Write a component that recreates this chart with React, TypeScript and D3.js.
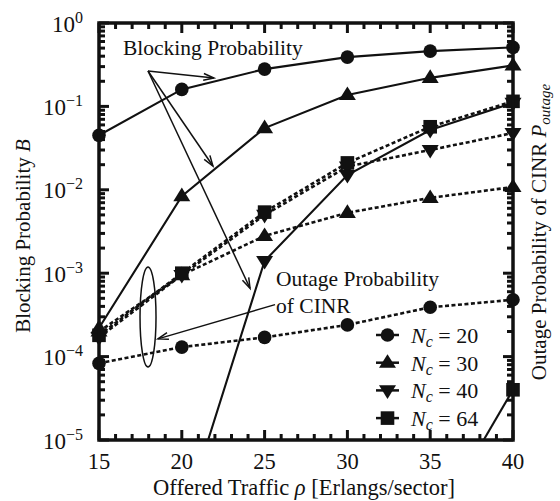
import React from "react";
import * as d3 from "d3";

// offered traffic [Erlangs/sector]
const traffic = [15, 20, 25, 30, 35, 40];
const trafficTicks = [15, 20, 25, 30, 35, 40];
const decades = [0, -1, -2, -3, -4, -5];

// blocking probability B (solid lines)
const blockNc20 = [0.045, 0.16, 0.28, 0.39, 0.46, 0.51];
const blockNc30 = [2.2e-4, 0.0084, 0.055, 0.137, 0.22, 0.31];
const blockNc40 = [null, 1e-6, 1.4e-3, 0.015, 0.052, 0.11];
const blockNc64 = [null, null, null, null, 8e-7, 4e-5];

// outage probability of CINR (dashed lines)
const outNc20 = [8.3e-5, 1.3e-4, 1.7e-4, 2.4e-4, 3.9e-4, 4.8e-4];
const outNc30 = [2.0e-4, 9.5e-4, 2.8e-3, 5.3e-3, 8.0e-3, 0.0108];
const outNc40 = [1.7e-4, 9.5e-4, 5.0e-3, 0.019, 0.03, 0.048];
const outNc64 = [1.8e-4, 1.0e-3, 5.4e-3, 0.021, 0.057, 0.115];

const legendLabels = ["20", "30", "40", "64"];
const markers = ["circle", "up", "down", "square"];

const W = 560;
const H = 501;
const m = { left: 99, right: 513, top: 23, bottom: 440 };
const font = "'Liberation Serif', 'Times New Roman', serif";
const ink = "#111";

const x = d3.scaleLinear().domain([15, 40]).range([m.left, m.right]);
const y = d3.scaleLog().domain([1e-5, 1]).range([m.bottom, m.top]);

function Marker({ type, cx, cy }: { type: string; cx: number; cy: number }) {
  if (type === "circle") return <circle cx={cx} cy={cy} r={6.8} fill={ink} />;
  if (type === "square")
    return <rect x={cx - 6.8} y={cy - 6.8} width={13.6} height={13.6} fill={ink} />;
  const s = 8.5;
  const pts =
    type === "up"
      ? [[cx, cy - s], [cx - s, cy + s * 0.6], [cx + s, cy + s * 0.6]]
      : [[cx, cy + s], [cx - s, cy - s * 0.6], [cx + s, cy - s * 0.6]];
  return <polygon points={pts.map((p) => p.join(",")).join(" ")} fill={ink} />;
}

function Series({ values, marker, dashed }: { values: (number | null)[]; marker: string; dashed?: boolean }) {
  const pts = traffic
    .map((t, i) => [t, values[i]] as [number, number | null])
    .filter((d) => d[1] != null) as [number, number][];
  const line = d3
    .line<[number, number]>()
    .x((d) => x(d[0]))
    .y((d) => y(d[1]));
  return (
    <g>
      <path
        d={line(pts) || ""}
        fill="none"
        stroke={ink}
        strokeWidth={dashed ? 2.6 : 2.1}
        strokeDasharray={dashed ? "4,2.5" : undefined}
        clipPath="url(#plotClip)"
      />
      {pts
        .filter((d) => d[1] >= 1e-5 && d[1] <= 1)
        .map((d, i) => (
          <Marker key={i} type={marker} cx={x(d[0])} cy={y(d[1])} />
        ))}
    </g>
  );
}

function Arrow({ x1, y1, x2, y2 }: { x1: number; y1: number; x2: number; y2: number }) {
  const a = Math.atan2(y2 - y1, x2 - x1);
  const L = 11;
  const w = 0.32;
  const p1 = [x2 - L * Math.cos(a - w), y2 - L * Math.sin(a - w)];
  const p2 = [x2 - L * Math.cos(a + w), y2 - L * Math.sin(a + w)];
  return (
    <g stroke={ink} strokeWidth={1.5} fill="none">
      <line x1={x1} y1={y1} x2={x2} y2={y2} />
      <polyline points={`${p1.join(",")} ${x2},${y2} ${p2.join(",")}`} />
    </g>
  );
}

export default function App() {
  const minorX = d3.range(15, 41, 1);
  const minorY: number[] = [];
  for (let e = -5; e < 0; e++) for (let k = 2; k <= 9; k++) minorY.push(k * Math.pow(10, e));

  const origin = { x: x(17.96), y: y(0.266) };
  const outOrigin = { x: x(25.63), y: y(4.2e-4) };

  return (
    <svg width={W} height={H} style={{ position: "absolute", left: 0, top: 0, background: "#fff" }} fontFamily={font}>
      <defs>
        <clipPath id="plotClip">
          <rect x={m.left} y={m.top} width={m.right - m.left} height={m.bottom - m.top} />
        </clipPath>
      </defs>

      {/* ticks */}
      <g stroke={ink} strokeWidth={3}>
        {minorX.map((t) => {
          const len = t % 5 === 0 ? 10 : 6;
          return (
            <g key={"x" + t}>
              <line x1={x(t)} x2={x(t)} y1={m.bottom} y2={m.bottom - len} />
              <line x1={x(t)} x2={x(t)} y1={m.top} y2={m.top + len} />
            </g>
          );
        })}
        {minorY.map((v, i) => (
          <g key={"ym" + i}>
            <line x1={m.left} x2={m.left + 6} y1={y(v)} y2={y(v)} />
            <line x1={m.right} x2={m.right - 6} y1={y(v)} y2={y(v)} />
          </g>
        ))}
        {decades.map((e) => (
          <g key={"yM" + e}>
            <line x1={m.left} x2={m.left + 10} y1={y(Math.pow(10, e))} y2={y(Math.pow(10, e))} />
            <line x1={m.right} x2={m.right - 10} y1={y(Math.pow(10, e))} y2={y(Math.pow(10, e))} />
          </g>
        ))}
      </g>

      {/* series */}
      <Series values={outNc20} marker="circle" dashed />
      <Series values={outNc30} marker="up" dashed />
      <Series values={outNc40} marker="down" dashed />
      <Series values={outNc64} marker="square" dashed />
      <Series values={blockNc20} marker="circle" />
      <Series values={blockNc30} marker="up" />
      <Series values={blockNc40} marker="down" />
      <Series values={blockNc64} marker="square" />

      {/* frame */}
      <rect x={m.left} y={m.top} width={m.right - m.left} height={m.bottom - m.top} fill="none" stroke={ink} strokeWidth={3.5} />

      {/* tick labels */}
      {trafficTicks.map((t) => (
        <text key={t} x={x(t)} y={469} textAnchor="middle" fontSize={22.5} fill={ink}>
          {t}
        </text>
      ))}
      {decades.map((e) => (
        <text key={e} x={83} y={y(Math.pow(10, e)) + 8.5} textAnchor="end" fontSize={23} fill={ink}>
          10
          <tspan dy={-9} fontSize={16}>
            {e === 0 ? "0" : "\u2212" + -e}
          </tspan>
        </text>
      ))}

      {/* axis titles */}
      <text x={304} y={495} textAnchor="middle" fontSize={22.5} fill={ink}>
        Offered Traffic <tspan fontStyle="italic">ρ</tspan> [Erlangs/sector]
      </text>
      <text transform="translate(30,236) rotate(-90)" textAnchor="middle" fontSize={21} fill={ink}>
        Blocking Probability <tspan fontStyle="italic">B</tspan>
      </text>
      <text transform="translate(546,232) rotate(-90)" textAnchor="middle" fontSize={21} fill={ink}>
        Outage Probability of CINR <tspan fontStyle="italic">P</tspan>
        <tspan fontStyle="italic" fontSize={15} dy={4}>outage</tspan>
      </text>

      {/* annotations */}
      <text x={123} y={55} fontSize={21.5} fill={ink}>Blocking Probability</text>
      <Arrow x1={origin.x} y1={origin.y} x2={x(21.94)} y2={y(0.219)} />
      <Arrow x1={origin.x} y1={origin.y} x2={x(21.88)} y2={y(0.0193)} />
      <Arrow x1={origin.x} y1={origin.y} x2={x(24.12)} y2={y(6.6e-4)} />

      <text x={276} y={286} fontSize={21.5} fill={ink}>Outage Probability</text>
      <text x={276} y={313} fontSize={21.5} fill={ink}>of CINR</text>
      <Arrow x1={outOrigin.x} y1={outOrigin.y} x2={x(18.56)} y2={y(1.63e-4)} />
      <ellipse cx={x(17.96)} cy={y(Math.pow(10, -3.525))} rx={8} ry={50} fill="none" stroke={ink} strokeWidth={1.5} />

      {/* legend */}
      {legendLabels.map((l, i) => {
        const ly = 335 + i * 27.7;
        return (
          <g key={l}>
            <line x1={376} x2={399} y1={ly} y2={ly} stroke={ink} strokeWidth={2.5} />
            <Marker type={markers[i]} cx={387.5} cy={ly} />
            <text x={411} y={ly + 8} fontSize={22} fill={ink}>
              <tspan fontStyle="italic">N</tspan>
              <tspan fontStyle="italic" fontSize={16} dy={4}>c</tspan>
              <tspan dy={-4}> = {l}</tspan>
            </text>
          </g>
        );
      })}
    </svg>
  );
}
